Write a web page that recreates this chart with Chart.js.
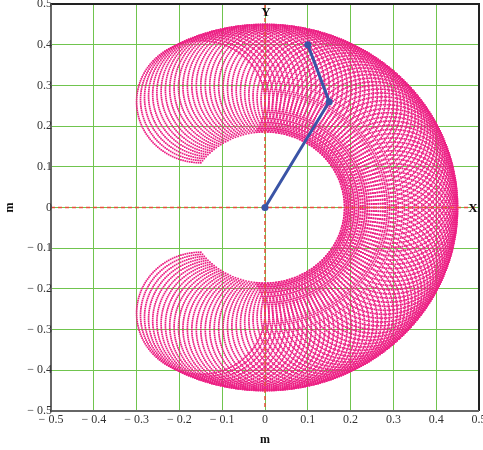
<!DOCTYPE html>
<html>
<head>
<meta charset="utf-8">
<script src="https://cdn.jsdelivr.net/npm/chart.js@4.4.1/dist/chart.umd.min.js"></script>
<style>
    body { margin: 0; background: #fff; }
    #wrap { width: 483px; height: 450px; position: relative; }
</style>
</head>
<body>
<div id="wrap"><canvas id="chart"></canvas></div>
<script>
// --- Data ---

// link lengths (m): shoulder->elbow, elbow->tip
const linkLengths = [0.3, 0.15];

// shoulder joint angles swept (deg)
const shoulderDeg = [
    -120, -118, -116, -114, -112, -110, -108, -106, -104, -102,
    -100, -98, -96, -94, -92, -90, -88, -86, -84, -82,
    -80, -78, -76, -74, -72, -70, -68, -66, -64, -62,
    -60, -58, -56, -54, -52, -50, -48, -46, -44, -42,
    -40, -38, -36, -34, -32, -30, -28, -26, -24, -22,
    -20, -18, -16, -14, -12, -10, -8, -6, -4, -2,
    0, 2, 4, 6, 8, 10, 12, 14, 16, 18,
    20, 22, 24, 26, 28, 30, 32, 34, 36, 38,
    40, 42, 44, 46, 48, 50, 52, 54, 56, 58,
    60, 62, 64, 66, 68, 70, 72, 74, 76, 78,
    80, 82, 84, 86, 88, 90, 92, 94, 96, 98,
    100, 102, 104, 106, 108, 110, 112, 114, 116, 118,
    120
];

// elbow joint angles swept (deg), relative to the first link
const elbowDeg = [
    -150, -148, -146, -144, -142, -140, -138, -136, -134, -132,
    -130, -128, -126, -124, -122, -120, -118, -116, -114, -112,
    -110, -108, -106, -104, -102, -100, -98, -96, -94, -92,
    -90, -88, -86, -84, -82, -80, -78, -76, -74, -72,
    -70, -68, -66, -64, -62, -60, -58, -56, -54, -52,
    -50, -48, -46, -44, -42, -40, -38, -36, -34, -32,
    -30, -28, -26, -24, -22, -20, -18, -16, -14, -12,
    -10, -8, -6, -4, -2, 0, 2, 4, 6, 8,
    10, 12, 14, 16, 18, 20, 22, 24, 26, 28,
    30, 32, 34, 36, 38, 40, 42, 44, 46, 48,
    50, 52, 54, 56, 58, 60, 62, 64, 66, 68,
    70, 72, 74, 76, 78, 80, 82, 84, 86, 88,
    90, 92, 94, 96, 98, 100, 102, 104, 106, 108,
    110, 112, 114, 116, 118, 120, 122, 124, 126, 128,
    130, 132, 134, 136, 138, 140, 142, 144, 146, 148,
    150
];

// arm pose drawn in blue: base, elbow, tip
const armX = [0, 0.15, 0.1];
const armY = [0, 0.26, 0.4];

const tickValues = [-0.5, -0.4, -0.3, -0.2, -0.1, 0, 0.1, 0.2, 0.3, 0.4, 0.5];

// --- Workspace points (forward kinematics of the two links) ---

const rad = Math.PI / 180;
const workspace = [];
shoulderDeg.forEach(s => {
    const a1 = s * rad;
    const ex = linkLengths[0] * Math.cos(a1);
    const ey = linkLengths[0] * Math.sin(a1);
    elbowDeg.forEach(e => {
        const a2 = a1 + e * rad;
        workspace.push({
            x: ex + linkLengths[1] * Math.cos(a2),
            y: ey + linkLengths[1] * Math.sin(a2)
        });
    });
});

const arm = armX.map((x, i) => ({ x, y: armY[i] }));

// --- Helpers ---

const GRID = 'rgb(112,196,78)';
const SERIF = '"Liberation Serif", "DejaVu Serif", serif';

function fmt(v) {
    const r = Math.round(v * 10) / 10;
    if (r === 0) return '0';
    return r < 0 ? '\u2212 ' + Math.abs(r).toFixed(1) : r.toFixed(1);
}

const decorPlugin = {
    id: 'decor',
    afterDatasetDraw(chart, args) {
        if (args.index !== 0) return;
        // red dashed coordinate axes
        const { ctx, chartArea: a, scales } = chart;
        const x0 = scales.x.getPixelForValue(0);
        const y0 = scales.y.getPixelForValue(0);
        ctx.save();
        ctx.strokeStyle = 'rgb(232,82,60)';
        ctx.lineWidth = 1.5;
        ctx.setLineDash([4, 3]);
        ctx.beginPath();
        ctx.moveTo(a.left, y0);
        ctx.lineTo(a.right, y0);
        ctx.moveTo(x0, a.top);
        ctx.lineTo(x0, a.bottom);
        ctx.stroke();
        ctx.restore();
    },
    afterDraw(chart) {
        const { ctx, chartArea: a, scales } = chart;
        ctx.save();

        // frame
        ctx.lineWidth = 2;
        ctx.strokeStyle = '#222';
        ctx.beginPath();
        ctx.moveTo(a.left, a.top);
        ctx.lineTo(a.right, a.top);
        ctx.lineTo(a.right, a.bottom);
        ctx.stroke();
        ctx.strokeStyle = '#666';
        ctx.beginPath();
        ctx.moveTo(a.left, a.top);
        ctx.lineTo(a.left, a.bottom);
        ctx.lineTo(a.right, a.bottom);
        ctx.stroke();

        // tick labels
        ctx.fillStyle = '#333';
        ctx.font = '12px ' + SERIF;
        ctx.textAlign = 'right';
        ctx.textBaseline = 'middle';
        tickValues.forEach(v => {
            ctx.fillText(fmt(v), a.left + 1, scales.y.getPixelForValue(v));
        });
        ctx.textAlign = 'center';
        ctx.textBaseline = 'top';
        tickValues.forEach(v => {
            ctx.fillText(fmt(v), scales.x.getPixelForValue(v), a.bottom + 3);
        });

        // axis titles and X / Y markers
        ctx.fillStyle = '#111';
        ctx.font = 'bold 12px ' + SERIF;
        ctx.textBaseline = 'middle';
        ctx.fillText('m', (a.left + a.right) / 2, 440);
        ctx.save();
        ctx.translate(10, (a.top + a.bottom) / 2);
        ctx.rotate(-Math.PI / 2);
        ctx.fillText('m', 0, 0);
        ctx.restore();

        ctx.font = 'bold 13px ' + SERIF;
        ctx.fillText('Y', scales.x.getPixelForValue(0) + 1, a.top + 9);
        ctx.fillText('X', a.right - 6, scales.y.getPixelForValue(0) + 1);
        ctx.restore();
    }
};

// --- Chart ---

new Chart(document.getElementById('chart'), {
    type: 'scatter',
    data: {
        datasets: [
            {
                label: 'workspace',
                data: workspace,
                pointStyle: 'rect',
                pointRadius: 1.2,
                pointBorderWidth: 0,
                pointBackgroundColor: 'rgb(236,32,132)',
                showLine: false,
                order: 2
            },
            {
                label: 'arm',
                data: arm,
                showLine: true,
                borderColor: 'rgb(58,84,166)',
                borderWidth: 3,
                pointRadius: 3.5,
                pointBackgroundColor: 'rgb(58,84,166)',
                pointBorderWidth: 0,
                order: 1
            }
        ]
    },
    options: {
        responsive: true,
        maintainAspectRatio: false,
        animation: false,
        events: [],
        layout: { padding: { top: 4, right: 4, left: 0, bottom: 0 } },
        plugins: {
            legend: { display: false },
            tooltip: { enabled: false }
        },
        scales: {
            x: {
                type: 'linear',
                min: -0.5,
                max: 0.5,
                ticks: { display: false, stepSize: 0.1 },
                grid: { color: GRID, lineWidth: 1, drawTicks: false },
                border: { display: false },
                afterFit: scale => { scale.height = 39; }
            },
            y: {
                type: 'linear',
                min: -0.5,
                max: 0.5,
                ticks: { display: false, stepSize: 0.1 },
                grid: { color: GRID, lineWidth: 1, drawTicks: false },
                border: { display: false },
                afterFit: scale => { scale.width = 51; }
            }
        }
    },
    plugins: [decorPlugin]
});
</script>
</body>
</html>
